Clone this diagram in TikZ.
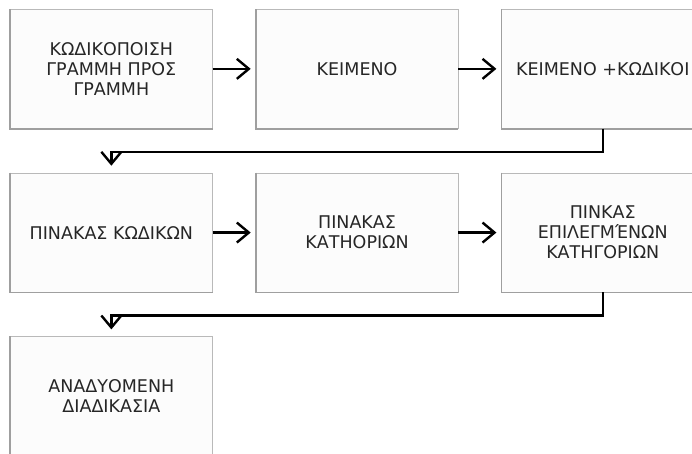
\documentclass[tikz,border=0pt]{standalone}
\usepackage{fontspec}
\setmainfont{DejaVu Sans}
\usetikzlibrary{arrows.meta,positioning}

\begin{document}
\begin{tikzpicture}[x=1pt,y=1pt,
  kasten/.style={draw=gray!55,line width=0.7pt,fill=black!1,minimum width=202pt,minimum height=119pt,
    align=center,text=black!85,inner sep=0pt,font=\fontsize{17.5}{20}\selectfont},
  schatten/.style={draw=gray!75,line width=1.6pt},
  pfeil/.style={line width=2.4pt,-{Straight Barb[length=12pt,width=20pt,line width=2.4pt]}},
  node distance=44pt and 43pt]
\useasboundingbox (0,0) rectangle (692,-453);
%erste Zeile
\node[kasten,anchor=north west] (kod) at (10,-9) {ΚΩΔΙΚΟΠΟΙΣΗ\\ΓΡΑΜΜΗ ΠΡΟΣ\\ΓΡΑΜΜΗ};
\node[kasten,right=of kod] (keim) {ΚΕΙΜΕΝΟ};
\node[kasten,right=of keim] (keimkod) {ΚΕΙΜΕΝΟ +ΚΩΔΙΚΟΙ};
%zweite Zeile
\node[kasten,below=of kod] (pinkod) {ΠΙΝΑΚΑΣ ΚΩΔΙΚΩΝ};
\node[kasten,right=of pinkod] (pinkat) {ΠΙΝΑΚΑΣ\\ΚΑΤΗΟΡΙΩΝ};
\node[kasten,right=of pinkat] (pinepi) {ΠΙΝΚΑΣ\\ΕΠΙΛΕΓΜΈΝΩΝ\\ΚΑΤΗΓΟΡΙΩΝ};
%dritte Zeile
\node[kasten,below=of pinkod] (anad) {ΑΝΑΔΥΟΜΕΝΗ\\ΔΙΑΔΙΚΑΣΙΑ};
%Schatten links und unten
\foreach \n in {kod,keim,keimkod,pinkod,pinkat,pinepi,anad}{
\draw[schatten] (\n.north west) |- (\n.south east);
}
%Pfeile in der Zeile
\draw[pfeil,shorten >=5pt] (kod) -- (keim);
\draw[pfeil,shorten >=5pt] (keim) -- (keimkod);
\draw[pfeil,shorten >=5pt] (pinkod) -- (pinkat);
\draw[pfeil,shorten >=5pt] (pinkat) -- (pinepi);
%Pfeile zur naechsten Zeile
\draw[pfeil,shorten >=7pt] (keimkod.south) |- ([yshift=21pt]pinkod.north) -- (pinkod.north);
\draw[pfeil,shorten >=7pt] (pinepi.south) |- ([yshift=21pt]anad.north) -- (anad.north);
\end{tikzpicture}
\end{document}
